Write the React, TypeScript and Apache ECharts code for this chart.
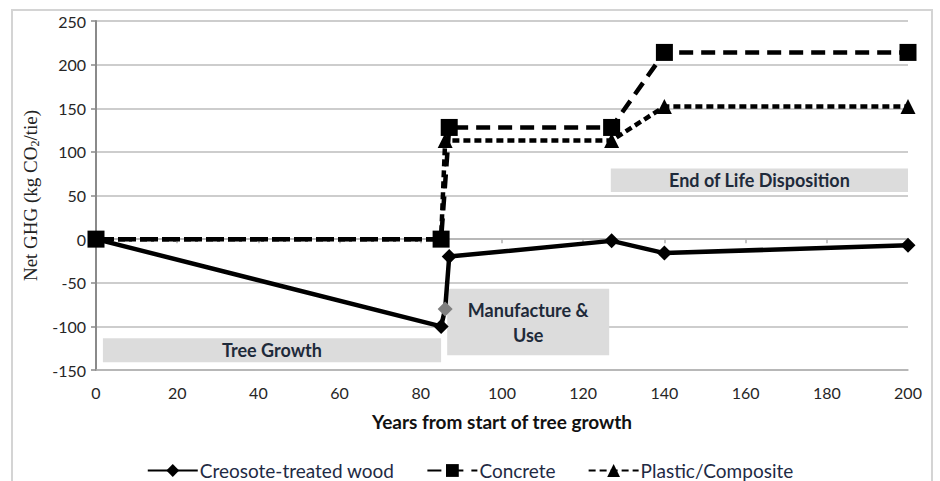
import React, { useEffect, useRef } from "react";
import * as echarts from "echarts";

const xTicks = { min: 0, max: 200, interval: 20 };
const yTicks = { min: -150, max: 250, interval: 50 };

const creosoteYears = [0, 85, 86, 87, 127, 140, 200];
const creosoteValues = [0, -100, -80, -20, -2, -16, -7];

const concreteYears = [0, 85, 87, 127, 140, 200];
const concreteValues = [0, 0, 128, 128, 214, 214];

const plasticYears = [0, 85, 86, 127, 140, 200];
const plasticValues = [0, 0, 113, 113, 152, 152];

const seriesNames = ["Creosote-treated wood", "Concrete", "Plastic/Composite"];

const phaseNames = ["Tree Growth", "Manufacture &\nUse", "End of Life Disposition"];
const phaseYearFrom = [1.7, 86.5, 126.8];
const phaseYearTo = [85, 126.4, 200];
const phaseValueTop = [-113.5, -57, 81];
const phaseValueBottom = [-141, -133, 54];

const font = "Lato, 'Liberation Sans', sans-serif";

export default function App() {
  const ref = useRef<HTMLDivElement>(null);
  useEffect(() => {
    if (!ref.current) return;
    const chart = echarts.init(ref.current, undefined, { renderer: "svg" });
    const zip = (xs: number[], ys: number[]) => xs.map((x, i) => [x, ys[i]]);
    const creosoteData: any[] = zip(creosoteYears, creosoteValues);
    creosoteData[2] = { value: creosoteData[2], itemStyle: { color: "#7f7f7f" } };

    const markAreaData = phaseNames.map((n, i) => [
      { name: n, xAxis: phaseYearFrom[i], yAxis: phaseValueTop[i] },
      { xAxis: phaseYearTo[i], yAxis: phaseValueBottom[i] },
    ]);

    chart.setOption({
      animation: false,
      backgroundColor: "#ffffff",
      graphic: [
        {
          type: "rect",
          shape: { x: 12, y: 10, width: 920, height: 520 },
          style: { fill: "none", stroke: "#d4d4d4", lineWidth: 2 },
          silent: true,
        },
      ],
      grid: { left: 96, right: 32, top: 21, bottom: 111, containLabel: false },
      legend: {
        bottom: -4,
        left: "center",
        itemWidth: 50,
        itemHeight: 16,
        itemGap: 32,
        textStyle: { fontFamily: font, fontSize: 19, color: "#1e2a44", padding: [0, 0, 0, -3] },
        data: seriesNames,
      },
      xAxis: [
        {
          type: "value",
          min: xTicks.min,
          max: xTicks.max,
          interval: xTicks.interval,
          name: "Years from start of tree growth",
          nameLocation: "middle",
          nameGap: 42,
          nameTextStyle: { fontFamily: font, fontSize: 19, fontWeight: "bold", color: "#111" },
          axisLine: { onZero: false, lineStyle: { color: "#b0b0b0", width: 1.5 } },
          axisTick: { show: false },
          axisLabel: { fontFamily: font, fontSize: 16, color: "#262626", margin: 14 },
          splitLine: { show: false },
        },
        {
          type: "value",
          min: xTicks.min,
          max: xTicks.max,
          interval: xTicks.interval,
          position: "bottom",
          axisLine: { onZero: true, lineStyle: { color: "#b0b0b0", width: 1.5 } },
          axisTick: { show: true, length: 4, lineStyle: { color: "#b0b0b0", width: 1.5 } },
          axisLabel: { show: false },
          splitLine: { show: false },
        },
      ],
      yAxis: {
        type: "value",
        min: yTicks.min,
        max: yTicks.max,
        interval: yTicks.interval,
        name: "Net GHG (kg CO{sub|2}/tie)",
        nameLocation: "middle",
        nameGap: 54,
        nameTextStyle: {
          fontFamily: "'Liberation Serif', serif",
          fontSize: 19,
          color: "#222",
          rich: {
            sub: { fontFamily: "'Liberation Serif', serif", fontSize: 12, color: "#222", padding: [9, 0, 0, 0] },
          },
        },
        axisLine: { show: true, lineStyle: { color: "#8a8a8a", width: 2 } },
        axisTick: { show: true, length: 5, lineStyle: { color: "#8a8a8a", width: 1.5 } },
        axisLabel: { fontFamily: font, fontSize: 16, color: "#262626", margin: 10 },
        splitLine: { lineStyle: { color: "#bdbdbd", width: 1.5 } },
      },
      series: [
        {
          name: seriesNames[0],
          type: "line",
          data: creosoteData,
          symbol: "diamond",
          symbolSize: 15,
          color: "#000",
          lineStyle: { color: "#000", width: 4.5 },
          itemStyle: { color: "#000" },
          z: 3,
          markArea: {
            silent: true,
            itemStyle: { color: "#dcdcdc", opacity: 1 },
            label: {
              show: true,
              position: "inside",
              fontFamily: font,
              fontSize: 18,
              fontWeight: "bold",
              color: "#1e2a3a",
              lineHeight: 25,
              align: "center",
            },
            data: markAreaData,
          },
        },
        {
          name: seriesNames[2],
          type: "line",
          data: zip(plasticYears, plasticValues),
          symbol: "triangle",
          symbolSize: 15,
          color: "#000",
          lineStyle: { color: "#000", width: 4.5, type: [7, 4] },
          itemStyle: { color: "#000" },
          z: 4,
        },
        {
          name: seriesNames[1],
          type: "line",
          data: zip(concreteYears, concreteValues),
          symbol: "rect",
          symbolSize: 17,
          color: "#000",
          lineStyle: { color: "#000", width: 4.5, type: [14, 8] },
          itemStyle: { color: "#000" },
          z: 5,
        },
      ],
    });
    return () => chart.dispose();
  }, []);
  return (
    <div
      ref={ref}
      style={{ position: "fixed", left: 0, top: 0, width: 940, height: 481 }}
    />
  );
}
